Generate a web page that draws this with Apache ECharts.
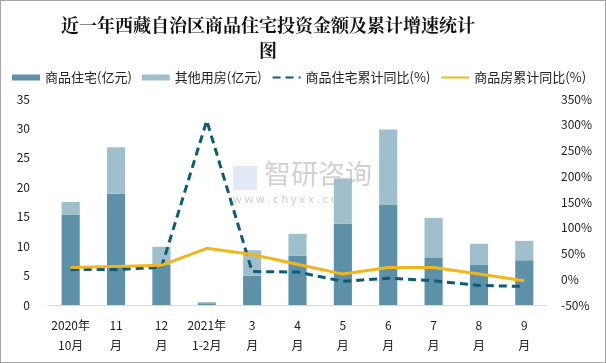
<!DOCTYPE html>
<html><head><meta charset="utf-8">
<script src="https://cdn.jsdelivr.net/npm/echarts@6/dist/echarts.min.js"></script>
<style>html,body{margin:0;padding:0;background:#fff}#c{width:606px;height:363px;box-sizing:border-box;border:1px solid #a6a6a6}</style>
</head><body><div id="c"></div>
<script>
const categories = ['2020年\n10月','11\n月','12\n月','2021年\n1-2月','3\n月','4\n月','5\n月','6\n月','7\n月','8\n月','9\n月'];
const residential = [15.3, 18.9, 6.8, 0.3, 5.0, 8.4, 13.8, 17.0, 8.1, 6.8, 7.6];
const otherUse = [2.2, 7.9, 3.1, 0.2, 4.3, 3.7, 7.7, 12.8, 6.7, 3.6, 3.3];
const residentialYoY = [19, 19, 23, 308, 15, 14, -4, 2, -3, -12, -14];
const housingYoY = [23, 25, 27, 60, 48, 29, 10, 23, 23, 10, -3];
const leftTicks = {min: 0, max: 35, interval: 5};
const rightTicks = {min: -50, max: 350, interval: 50};

const chart = echarts.init(document.getElementById('c'));
const f = '"Noto Sans CJK SC", "Noto Sans", sans-serif';
chart.setOption({
  animation: false,
  title: {
    text: '近一年西藏自治区商品住宅投资金额及累计增速统计\n图',
    left: 262, top: 7, textAlign: 'center',
    textStyle: {fontFamily: '"Noto Serif CJK SC", "Noto Sans CJK SC", serif', fontWeight: 'bold', fontSize: 18, lineHeight: 25, color: '#111'}
  },
  legend: {
    top: 65, left: 6, itemGap: 10, itemWidth: 28, itemHeight: 6,
    textStyle: {fontFamily: f, fontSize: 13, color: '#222'},
    data: [
      {name: '商品住宅(亿元)', icon: 'rect'},
      {name: '其他用房(亿元)', icon: 'rect'},
      {name: '商品住宅累计同比(%)', itemStyle: {opacity: 0}},
      {name: '商品房累计同比(%)', itemStyle: {opacity: 0}}
    ]
  },
  grid: {left: 47, right: 58, top: 98, bottom: 57},
  xAxis: {
    type: 'category', data: categories,
    axisLine: {lineStyle: {color: '#d9d9d9'}}, axisTick: {show: false},
    axisLabel: {fontFamily: f, fontSize: 12, color: '#222', lineHeight: 20, margin: 10, interval: 0}
  },
  yAxis: [
    {type: 'value', min: leftTicks.min, max: leftTicks.max, interval: leftTicks.interval,
     splitLine: {show: false}, axisLine: {show: false}, axisTick: {show: false},
     axisLabel: {fontFamily: f, fontSize: 12, color: '#222', margin: 18}},
    {type: 'value', min: rightTicks.min, max: rightTicks.max, interval: rightTicks.interval,
     splitLine: {show: false}, axisLine: {show: false}, axisTick: {show: false},
     axisLabel: {fontFamily: f, fontSize: 12, color: '#222', formatter: '{value}%', margin: 14}}
  ],
  graphic: [
    {type: 'text', left: 263, top: 159, style: {text: '智研咨询', fill: 'rgba(140,140,140,0.4)', font: '27px "Noto Sans CJK SC"'}},
    {type: 'text', left: 232, top: 193, style: {text: 'w w w . c h y x x . c o m', fill: 'rgba(140,140,140,0.45)', font: '11px "Noto Sans"'}},
    {type: 'rect', left: 232, top: 165, shape: {width: 24, height: 24}, style: {fill: 'rgba(160,180,220,0.3)'}}
  ],
  series: [
    {name: '商品住宅(亿元)', type: 'bar', stack: 'a', data: residential, barWidth: '40%', itemStyle: {color: '#5E91A8'}},
    {name: '其他用房(亿元)', type: 'bar', stack: 'a', data: otherUse, itemStyle: {color: '#A0BFCC'}},
    {name: '商品住宅累计同比(%)', type: 'line', yAxisIndex: 1, data: residentialYoY, symbol: 'none',
     lineStyle: {color: '#0F5A78', width: 3, type: [8, 5]}, itemStyle: {color: '#0F5A78'}},
    {name: '商品房累计同比(%)', type: 'line', yAxisIndex: 1, data: housingYoY, symbol: 'none',
     lineStyle: {color: '#F2B61C', width: 3}, itemStyle: {color: '#F2B61C'}}
  ]
});
</script></body></html>
